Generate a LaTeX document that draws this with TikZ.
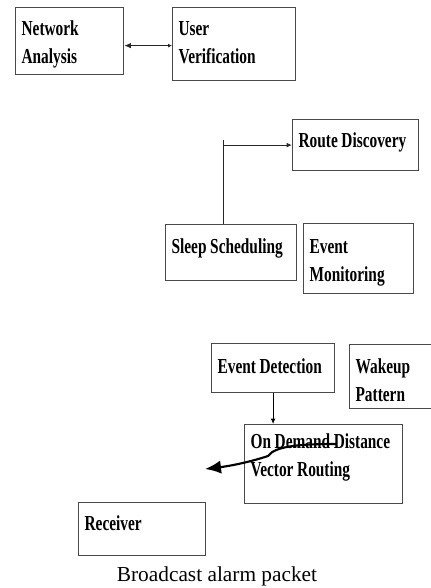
\documentclass[tikz,border=0pt]{standalone}
\usepackage{fontspec}
\setmainfont{Liberation Serif}
\newfontfamily\boxfont[FakeStretch=0.72]{Liberation Serif}
\usepackage{tikz}
\usetikzlibrary{arrows.meta,calc}
\definecolor{bLine}{HTML}{4A4A4A}

\tikzset{
  blk/.style={draw=bLine, line width=0.9pt, anchor=north west, align=left,
    inner xsep=4.5pt, inner ysep=0pt,
    font=\boxfont\bfseries\fontsize{16}{21}\selectfont,
    execute at begin node={\spaceskip=0.17em\relax\hyphenpenalty=10000\relax}},
  link/.style={line width=0.7pt, black!85}
}

\begin{document}
\begin{tikzpicture}[x=0.75pt,y=-0.75pt]
\useasboundingbox (0,0) rectangle (430,588);

\node[blk, text width=72pt, text height=21pt, text depth=29.25pt] (net) at (15,7) {Network\\Analysis};
\node[blk, text width=83.25pt, text height=21pt, text depth=33.75pt] (user) at (172,7) {User\\Verification};

\node[blk, text width=85.5pt, text height=21pt, text depth=17.25pt] (route) at (292,119) {Route Discovery};
\node[blk, text width=89.25pt, text height=21.75pt, text depth=20.25pt] (sleep) at (165,224) {Sleep Scheduling};
\node[blk, text width=73.5pt, text height=22.5pt, text depth=30pt] (evmon) at (303,223) {Event\\Monitoring};

\node[blk, text width=83.25pt, text height=22.5pt, text depth=14.25pt] (evdet) at (211,343) {Event Detection};
\node[blk, text width=55.5pt, text height=21.75pt, text depth=26.25pt] (wake) at (349,344) {Wakeup\\Pattern};
\node[blk, text width=109.5pt, text height=18pt, text depth=41.25pt] (odv) at (244,424) {On Demand Distance\\Vector Routing};

\node[blk, text width=86.25pt, text height=21pt, text depth=18.75pt] (recv) at (78,502) {Receiver};

\node[anchor=base, font=\fontsize{16}{19}\selectfont] (bcast) at (217,581) {Broadcast alarm packet};

% connectors
\coordinate (nu) at ($(net.east)+(0,4.5)$);
\draw[link, {Latex[length=5pt,width=4pt]}-{Latex[length=3pt,width=3pt]}]
  (nu) -- (nu -| user.west);

\coordinate (tee) at (sleep.north -| 223,0);
\coordinate (knee) at (tee |- route.west);
\draw[link] (tee) -- ($(knee)+(0,-5)$);
\draw[link, -{Latex[length=4pt,width=3.5pt]}] (knee) -- (route.west);

\draw[line width=0.6pt, -{Latex[length=4pt,width=3.5pt]}] (evdet.south) -- (evdet.south |- odv.north);

\coordinate (alarm) at (336,444);
\coordinate (drop) at (205,469);
\draw[line width=1.6pt, -{Latex[length=12pt,width=10pt]}]
  (alarm) .. controls (300,444) and (275,446) .. (268,456)
  .. controls (250,462) and (230,466) .. (drop);
\end{tikzpicture}
\end{document}
